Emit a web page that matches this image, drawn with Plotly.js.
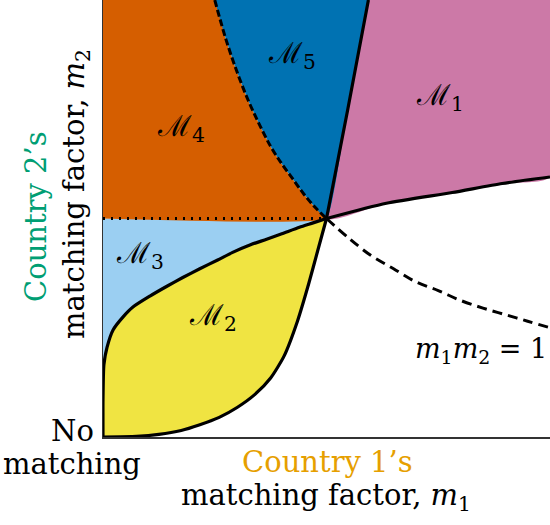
<!DOCTYPE html>
<html>
<head>
<meta charset="utf-8">
<script src="https://cdn.plot.ly/plotly-3.0.1.min.js"></script>
<style>html,body{margin:0;padding:0;background:#fff;}#chart{width:550px;height:525px;}</style>
</head>
<body>
<div id="chart"></div>
<script>
// ---------- data (m1, m2 in the same units, (1,1) = crossing point) ----------
var axisMax = 2;
var threshold = 1;

// boundary of M3 / M2 (rises steeply from the origin, then flattens)
var upperM1 = [0, 0, 0.004, 0.018, 0.045, 0.09, 0.134, 0.21, 0.286, 0.357, 0.433, 0.513, 0.58, 0.66, 0.732, 0.80, 0.879, 0.94, 1];
var upperM2 = [0, 0.17, 0.33, 0.41, 0.49, 0.55, 0.595, 0.645, 0.69, 0.73, 0.77, 0.81, 0.845, 0.88, 0.905, 0.93, 0.96, 0.98, 1];
// continuation beyond (1,1): lower boundary of M1
var flatM1 = [1, 1.268, 1.5625, 1.786, 2];
var flatM2 = [1, 1.07, 1.119, 1.16, 1.19];

// boundary of M2 / white (flat from the origin, then steep) and its continuation (M5 / M1)
var lowerM1 = [0, 0.15, 0.25, 0.35, 0.43, 0.52, 0.6, 0.68, 0.75, 0.81, 0.87, 0.92, 0.96, 1];
var lowerM2 = [0, 0.003, 0.012, 0.03, 0.055, 0.09, 0.135, 0.195, 0.27, 0.37, 0.53, 0.70, 0.85, 1];
var steepM1 = [1, 1.094, 1.1875];
var steepM2 = [1, 1.493, 2];

// curve m1 m2 = 1
var hypUpM1 = [0.5, 0.55, 0.6, 0.65, 0.7, 0.75, 0.8, 0.85, 0.9, 0.95, 1];
var hypUpM2 = [2, 1.82, 1.67, 1.54, 1.43, 1.33, 1.25, 1.18, 1.11, 1.05, 1];
var hypLoM1 = [1, 1.1, 1.2, 1.3, 1.4, 1.5, 1.6, 1.7, 1.8, 1.9, 2];
var hypLoM2 = [1, 0.91, 0.83, 0.77, 0.71, 0.67, 0.625, 0.59, 0.56, 0.53, 0.5];

var regionNames = ['M1', 'M2', 'M3', 'M4', 'M5'];
var regionColors = {M1: '#CC79A7', M2: '#F0E442', M3: '#9BCFF2', M4: '#D55E00', M5: '#0072B2'};

// ---------- build region polygons from the boundaries ----------
function rev(a) { return a.slice().reverse(); }
var polys = {
  M4: {x: [0].concat(rev(hypUpM1), [0]), y: [threshold].concat(rev(hypUpM2), [axisMax])},
  M5: {x: hypUpM1.concat(steepM1.slice(1)), y: hypUpM2.concat(steepM2.slice(1))},
  M1: {x: rev(steepM1).concat(flatM1.slice(1), [axisMax]), y: rev(steepM2).concat(flatM2.slice(1), [axisMax])},
  M3: {x: upperM1.concat([0]), y: upperM2.concat([threshold])},
  M2: {x: upperM1.concat(rev(lowerM1).slice(1)), y: upperM2.concat(rev(lowerM2).slice(1))}
};

var traces = [];
regionNames.forEach(function (n) {
  traces.push({x: polys[n].x, y: polys[n].y, type: 'scatter', mode: 'lines', fill: 'toself',
    fillcolor: regionColors[n], line: {width: 0, color: regionColors[n], shape: 'spline', smoothing: 0.6},
    hoverinfo: 'skip', showlegend: false});
});
var black = '#000';
traces.push({x: [0, 1], y: [threshold, threshold], type: 'scatter', mode: 'lines',
  line: {color: black, width: 3, dash: '2px,6px'}, showlegend: false, hoverinfo: 'skip'});
[[upperM1, upperM2], [flatM1, flatM2], [lowerM1, lowerM2], [steepM1, steepM2]].forEach(function (c) {
  traces.push({x: c[0], y: c[1], type: 'scatter', mode: 'lines',
    line: {color: black, width: 3.2, shape: 'spline', smoothing: 0.6}, showlegend: false, hoverinfo: 'skip'});
});
traces.push({x: hypUpM1, y: hypUpM2, type: 'scatter', mode: 'lines',
  line: {color: black, width: 3, dash: '7px,3px', shape: 'spline'}, showlegend: false, hoverinfo: 'skip'});
traces.push({x: hypLoM1, y: hypLoM2, type: 'scatter', mode: 'lines',
  line: {color: black, width: 3, dash: '10px,6px', shape: 'spline'}, showlegend: false, hoverinfo: 'skip'});

// ---------- layout ----------
var L = 103, T = 0, W = 447, H = 437;
function px(x) { return (x - L) / W; }
function py(y) { return (T + H - y) / H; }
var FONT = 'DejaVu Serif';
var FS = 29;
function ann(text, x, y, opts) {
  var a = {text: text, x: px(x), y: py(y), xref: 'paper', yref: 'paper', showarrow: false,
    xanchor: 'center', yanchor: 'middle', font: {family: FONT, size: FS, color: '#000'}};
  for (var k in opts) a[k] = opts[k];
  return a;
}
function mLabel(i) { return '\u2133<sub>' + i + '</sub>'; }
var annotations = [
  ann(mLabel(1), 440, 97, {}),
  ann(mLabel(5), 292, 55, {}),
  ann(mLabel(4), 181, 128, {}),
  ann(mLabel(3), 140, 255, {}),
  ann(mLabel(2), 213, 317, {}),
  ann('<i>m</i><sub>1</sub><i>m</i><sub>2</sub> = 1', 548, 350, {xanchor: 'right', borderpad: 0,
    font: {family: FONT, size: 27, color: '#000'}}),
  ann('No', 72, 431, {}),
  ann('matching', 72, 464, {}),
  ann('Country 1\u2019s', 327, 462, {font: {family: FONT, size: FS, color: '#E69F00'}}),
  ann('matching factor, <i>m</i><sub>1</sub>', 326, 497, {}),
  ann('Country 2\u2019s', 36, 217, {textangle: -90, font: {family: FONT, size: FS, color: '#009E73'}}),
  ann('matching factor, <i>m</i><sub>2</sub>', 76, 194, {textangle: -90})
];

var axisCommon = {range: [0, axisMax], showgrid: false, zeroline: false, showticklabels: false, ticks: '',
  showline: true, linecolor: '#333', linewidth: 1.5, fixedrange: true};
var layout = {
  width: 550, height: 525,
  margin: {l: L, r: 0, t: T, b: 525 - H, pad: 0},
  paper_bgcolor: '#fff', plot_bgcolor: '#fff',
  font: {family: FONT},
  xaxis: Object.assign({}, axisCommon, {mirror: true}),
  yaxis: Object.assign({}, axisCommon),
  annotations: annotations,
  showlegend: false
};
Plotly.newPlot('chart', traces, layout, {staticPlot: true, displayModeBar: false});
</script>
</body>
</html>
